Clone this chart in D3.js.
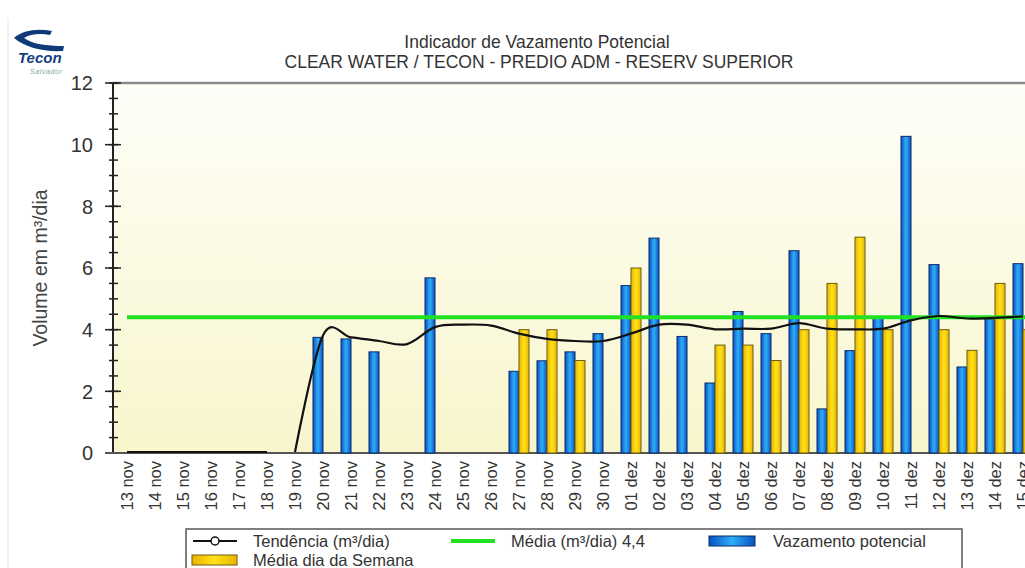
<!DOCTYPE html>
<html lang="pt-br">
  <meta charset="utf-8">
  <style>
    body { margin: 0; background: #fff; }
    svg { display: block; font-family: "Liberation Sans", Arial, sans-serif; }
  </style>
  <body>
    <svg width="1025" height="568"></svg>

    <script src="https://d3js.org/d3.v7.min.js"></script>
    <script>
    // categorias (dias)
    let dias = ['13 nov','14 nov','15 nov','16 nov','17 nov','18 nov','19 nov','20 nov','21 nov','22 nov',
                '23 nov','24 nov','25 nov','26 nov','27 nov','28 nov','29 nov','30 nov',
                '01 dez','02 dez','03 dez','04 dez','05 dez','06 dez','07 dez','08 dez','09 dez',
                '10 dez','11 dez','12 dez','13 dez','14 dez','15 dez']

    // Vazamento potencial (m3/dia)
    let vazamento = [0, 0, 0, 0, 0, 0, 0, 3.75, 3.7, 3.28,
                     null, 5.68, null, null, 2.65, 2.99, 3.28, 3.87,
                     5.43, 6.97, 3.78, 2.27, 4.59, 3.87, 6.56, 1.43, 3.32,
                     4.38, 10.27, 6.11, 2.79, 4.35, 6.14]

    // Média dia da Semana
    let mediaSemana = [null, null, null, null, null, null, null, null, null, null,
                       null, null, null, null, 4.0, 4.0, 3.0, null,
                       6.0, null, null, 3.5, 3.5, 3.0, 4.0, 5.5, 7.0,
                       4.0, null, 4.0, 3.33, 5.5, 4.0]

    // Tendência (m3/dia)
    let tendencia = [0, 0, 0, 0, 0, 0, 0, 3.78, 3.72, 3.6,
                     3.5, 4.05, 4.13, 4.1, 3.84, 3.67, 3.6, 3.6,
                     3.84, 4.13, 4.13, 3.98, 4.0, 4.0, 4.18, 4.0, 3.98,
                     4.0, 4.27, 4.41, 4.33, 4.35, 4.4]
    let trechos = [[0, 5], [6, 32]]   // a linha de tendência é interrompida entre 18 e 19 nov

    let media = 4.4
    let yTicks = [0, 2, 4, 6, 8, 10, 12]

    let svg = d3.select('svg')
    let defs = svg.append('defs')

    // gradientes
    let gBg = defs.append('linearGradient').attr('id', 'bg').attr('x1', 0).attr('y1', 0).attr('x2', 0).attr('y2', 1)
    gBg.append('stop').attr('offset', '0%').attr('stop-color', '#fefef9')
    gBg.append('stop').attr('offset', '100%').attr('stop-color', '#f8f6cc')

    let gBlue = defs.append('linearGradient').attr('id', 'azul').attr('x1', 0).attr('x2', 1).attr('y1', 0).attr('y2', 0)
    gBlue.append('stop').attr('offset', '0%').attr('stop-color', '#0a4fc4')
    gBlue.append('stop').attr('offset', '50%').attr('stop-color', '#2fb0f8')
    gBlue.append('stop').attr('offset', '100%').attr('stop-color', '#0a4fc4')

    let gYel = defs.append('linearGradient').attr('id', 'amarelo').attr('x1', 0).attr('x2', 1).attr('y1', 0).attr('y2', 0)
    gYel.append('stop').attr('offset', '0%').attr('stop-color', '#e8b400')
    gYel.append('stop').attr('offset', '50%').attr('stop-color', '#ffe21a')
    gYel.append('stop').attr('offset', '100%').attr('stop-color', '#e8b400')

    // escalas
    let x = d3.scaleBand()
              .domain(dias)
              .range([113, 113 + dias.length * 28])
    let y = d3.scaleLinear()
              .domain([0, 12])
              .range([453, 83])
    let cx = d => x(d) + x.bandwidth() / 2

    // borda esquerda da imagem
    svg.append('line').attr('x1', 8).attr('x2', 8).attr('y1', 18).attr('y2', 568)
       .attr('stroke', '#e4e4e4').attr('stroke-width', 1)

    // fundo da área do gráfico
    svg.append('rect')
       .attr('x', 113).attr('y', y(12))
       .attr('width', 1025 - 113).attr('height', y(0) - y(12))
       .attr('fill', 'url(#bg)')
    svg.append('line').attr('x1', 113).attr('x2', 1025).attr('y1', y(12)).attr('y2', y(12))
       .attr('stroke', '#8a8a8a').attr('stroke-width', 2.5)

    // títulos
    svg.append('text').attr('x', 537).attr('y', 48).attr('text-anchor', 'middle')
       .attr('font-size', '17.5px').attr('fill', '#333').text('Indicador de Vazamento Potencial')
    svg.append('text').attr('x', 539).attr('y', 68).attr('text-anchor', 'middle')
       .attr('font-size', '17.5px').attr('fill', '#333').text('CLEAR WATER / TECON - PREDIO ADM - RESERV SUPERIOR')

    // logo
    let logo = svg.append('g')
    logo.append('path')
        .attr('d', 'M14,38 C22,30 38,28 52,31 L50,35 C40,33 30,34 24,38 C32,44 46,46 64,46 L63,51 C44,52 26,48 14,38 Z')
        .attr('fill', '#0f3a78')
    logo.append('text').attr('x', 18).attr('y', 63).attr('font-size', '15px').attr('font-weight', 'bold')
        .attr('font-style', 'italic').attr('fill', '#133f7e').text('Tecon')
    logo.append('text').attr('x', 30).attr('y', 74).attr('font-size', '7px').attr('font-style', 'italic')
        .attr('fill', '#7fa88a').attr('letter-spacing', '0.6px').text('Salvador')

    // eixo y
    let yAxis = svg.append('g')
    yAxis.append('line').attr('x1', 113).attr('x2', 113).attr('y1', y(12)).attr('y2', y(0))
         .attr('stroke', '#222').attr('stroke-width', 2)
    yAxis.selectAll('.minor').data(d3.range(0, 12.01, 0.5)).enter()
         .append('line')
         .attr('x1', 109).attr('x2', 118)
         .attr('y1', d => y(d)).attr('y2', d => y(d))
         .attr('stroke', '#222').attr('stroke-width', 1.5)
    yAxis.selectAll('.major').data(yTicks).enter()
         .append('line')
         .attr('x1', 105).attr('x2', 121)
         .attr('y1', d => y(d)).attr('y2', d => y(d))
         .attr('stroke', '#222').attr('stroke-width', 1.5)
    yAxis.selectAll('text').data(yTicks).enter()
         .append('text')
         .attr('x', 93).attr('y', d => y(d)).attr('dy', '0.36em')
         .attr('text-anchor', 'end').attr('font-size', '20px').attr('fill', '#333')
         .text(d => d)
    svg.append('text')
       .attr('transform', 'translate(47,268) rotate(-90)')
       .attr('text-anchor', 'middle').attr('font-size', '19.5px').attr('fill', '#444')
       .text('Volume em m³/dia')

    // linha do eixo x (abaixo das séries)
    svg.append('line').attr('x1', 105).attr('x2', 1025).attr('y1', y(0)).attr('y2', y(0))
       .attr('stroke', '#555').attr('stroke-width', 2)

    // barras
    let barW = 10
    svg.append('g').selectAll('rect')
       .data(dias.map((d, i) => ({ d: d, v: vazamento[i] })).filter(o => o.v > 0))
       .enter().append('rect')
       .attr('x', o => cx(o.d) - barW)
       .attr('y', o => y(o.v))
       .attr('width', barW)
       .attr('height', o => y(0) - y(o.v))
       .attr('fill', 'url(#azul)')
       .attr('stroke', '#0b2a66').attr('stroke-width', 1)

    svg.append('g').selectAll('rect')
       .data(dias.map((d, i) => ({ d: d, v: mediaSemana[i] })).filter(o => o.v > 0))
       .enter().append('rect')
       .attr('x', o => cx(o.d))
       .attr('y', o => y(o.v))
       .attr('width', barW)
       .attr('height', o => y(0) - y(o.v))
       .attr('fill', 'url(#amarelo)')
       .attr('stroke', '#6e5c10').attr('stroke-width', 1)

    // média
    svg.append('line')
       .attr('x1', cx(dias[0])).attr('x2', 1025)
       .attr('y1', y(media)).attr('y2', y(media))
       .attr('stroke', '#22e022').attr('stroke-width', 4)

    // tendência
    let linha = d3.line()
                  .x(i => cx(dias[i]))
                  .y(i => y(tendencia[i]) - 1)
                  .curve(d3.curveCardinal.tension(0))
    svg.append('g').selectAll('path')
       .data(trechos).enter()
       .append('path')
       .attr('d', t => linha(d3.range(t[0], t[1] + 1)))
       .attr('fill', 'none').attr('stroke', '#111').attr('stroke-width', 2.2)

    // rótulos do eixo x
    svg.append('g').selectAll('text')
       .data(dias).enter()
       .append('text')
       .attr('transform', d => `translate(${cx(d)},461) rotate(-90)`)
       .attr('dy', '0.36em')
       .attr('text-anchor', 'end').attr('font-size', '16.5px').attr('fill', '#333')
       .text(d => d)

    // legenda
    let leg = svg.append('g')
    leg.append('rect').attr('x', 186).attr('y', 529).attr('width', 776).attr('height', 60)
       .attr('fill', '#fff').attr('stroke', '#555').attr('stroke-width', 1.5)
    leg.append('line').attr('x1', 193).attr('x2', 237).attr('y1', 541).attr('y2', 541)
       .attr('stroke', '#111').attr('stroke-width', 2)
    leg.append('circle').attr('cx', 215).attr('cy', 541).attr('r', 4)
       .attr('fill', '#fff').attr('stroke', '#111').attr('stroke-width', 1.5)
    leg.append('line').attr('x1', 451).attr('x2', 495).attr('y1', 541).attr('y2', 541)
       .attr('stroke', '#22e022').attr('stroke-width', 4)
    leg.append('rect').attr('x', 709).attr('y', 536).attr('width', 46).attr('height', 10)
       .attr('fill', 'url(#azul)').attr('stroke', '#0b2a66')
    leg.append('rect').attr('x', 192).attr('y', 555).attr('width', 45).attr('height', 10)
       .attr('fill', 'url(#amarelo)').attr('stroke', '#6e5c10')
    let legTxt = [['Tendência (m³/dia)', 253, 541], ['Média (m³/dia) 4,4', 511, 541],
                  ['Vazamento potencial', 773, 541], ['Média dia da Semana', 253, 560]]
    leg.selectAll('text').data(legTxt).enter()
       .append('text')
       .attr('x', d => d[1]).attr('y', d => d[2]).attr('dy', '0.36em')
       .attr('font-size', '16.5px').attr('fill', '#333')
       .text(d => d[0])
    </script>
</body>
</html>
